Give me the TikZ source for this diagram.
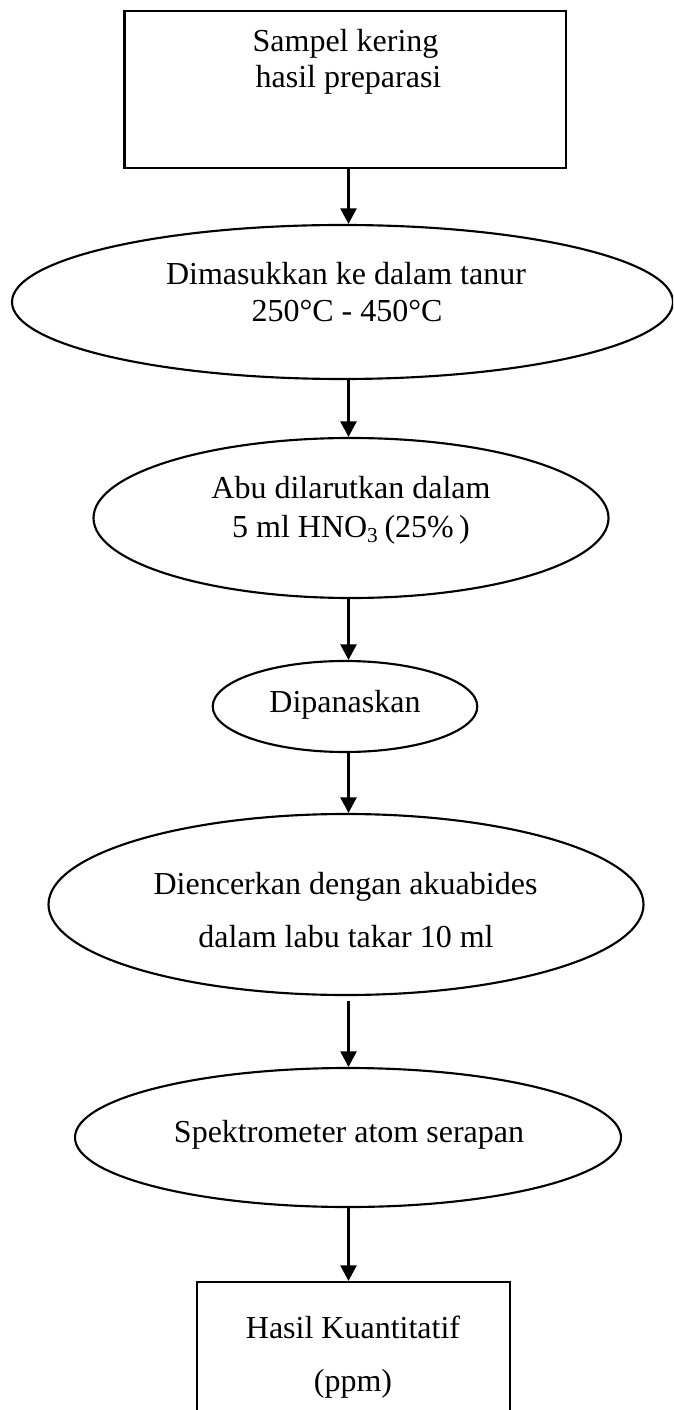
\documentclass[tikz,border=0pt]{standalone}
\usepackage{fontspec}
\setmainfont{Liberation Serif}
\usetikzlibrary{shapes.geometric,arrows.meta}
\tikzset{
  shapeline/.style={draw=black, line width=0.8pt, inner sep=0pt},
  ovalbox/.style={shapeline, ellipse},
  rectbox/.style={shapeline, rectangle},
  lbl/.style={anchor=base, inner sep=0pt, font=\fontsize{12}{14}\selectfont},
  arr/.style={draw=black, line width=0.8pt, -{Triangle[length=5.8pt,width=6pt]}}
}
\begin{document}
\begin{tikzpicture}[x=0.375pt, y=-0.375pt]
\clip (0,0) rectangle (673,1410);
\fill[white] (0,0) rectangle (673,1410);
% shapes
\node[rectbox, minimum width=441.2*0.375pt, minimum height=157*0.375pt] (top) at (345.1,89.2) {};
\node[ovalbox, minimum width=661*0.375pt, minimum height=154*0.375pt] (e1) at (342.5,302) {};
\node[ovalbox, minimum width=515*0.375pt, minimum height=160*0.375pt] (e2) at (351,518) {};
\node[ovalbox, minimum width=264.6*0.375pt, minimum height=91*0.375pt] (e3) at (345,706.5) {};
\node[ovalbox, minimum width=595*0.375pt, minimum height=181*0.375pt] (e4) at (346,904.5) {};
\node[ovalbox, minimum width=546*0.375pt, minimum height=139*0.375pt] (e5) at (348,1137.5) {};
\node[rectbox, minimum width=313.4*0.375pt, minimum height=148*0.375pt] (bot) at (353.3,1356) {};
% texts
\node[lbl] (t1a) at (345.5,52) {Sampel kering};
\node[lbl] (t1b) at (348.5,88) {hasil preparasi};
\node[lbl] (t2a) at (346,285) {Dimasukkan ke dalam tanur};
\node[lbl] (t2b) at (347,322) {250°C - 450°C};
\node[lbl] (t3a) at (351,499) {Abu dilarutkan dalam};
\node[lbl] (t3b) at (351,538) {5 ml HNO\textsubscript{3}\,(25\%\,)};
\node[lbl] (t4) at (345,712) {Dipanaskan};
\node[lbl] (t5a) at (345.5,894) {Diencerkan dengan akuabides};
\node[lbl] (t5b) at (346,947) {dalam labu takar 10 ml};
\node[lbl] (t6) at (349,1142) {Spektrometer atom serapan};
\node[lbl] (t7a) at (353,1338) {Hasil Kuantitatif};
\node[lbl] (t7b) at (353,1391) {(ppm)};
% arrows
\coordinate (ax) at (348.5,0);
\draw[arr] (top.south -| ax) -- (e1.north -| ax);
\draw[arr] (e1.south -| ax) -- (e2.north -| ax);
\draw[arr] (e2.south -| ax) -- (e3.north -| ax);
\draw[arr] (e3.south -| ax) -- (e4.north -| ax);
\draw[arr, shorten <=1.9pt] (e4.south -| ax) -- (e5.north -| ax);
\draw[arr] (e5.south -| ax) -- (bot.north -| ax);
\end{tikzpicture}
\end{document}
